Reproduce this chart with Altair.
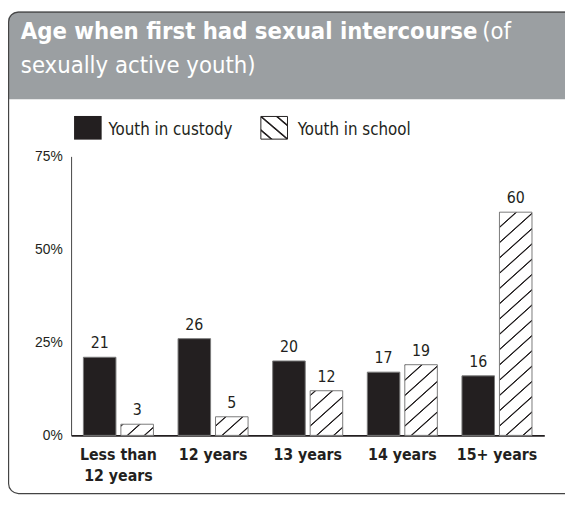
import altair as alt
import pandas as pd

# ---------------- data ----------------
ages = ["Less than\n12 years", "12 years", "13 years", "14 years", "15+ years"]
custody = [21, 26, 20, 17, 16]
school = [3, 5, 12, 19, 60]
series_names = ["Youth in custody", "Youth in school"]
y_ticks = [0, 25, 50, 75]
title_bold = "Age when first had sexual intercourse"
title_rest1 = "(of"
title_rest2 = "sexually active youth)"

# ---------------- style / layout ----------------
W, H = 480, 283
YMAX = 75
INK = "#231f20"
FONT = "Liberation Sans Narrow, DejaVu Sans Condensed, Roboto Condensed, Arial Narrow, sans-serif"
AXFONT = "Liberation Sans, Arial, sans-serif"
PI_X, PO_X, PI_OFF = 0.26, 0.13, 0.132

rows = []
for i, a in enumerate(ages):
    rows.append({"age": a, "series": series_names[0], "value": custody[i], "idx": i})
    rows.append({"age": a, "series": series_names[1], "value": school[i], "idx": i})
df = pd.DataFrame(rows)

step = W / (len(ages) - PI_X + 2 * PO_X)
band = step * (1 - PI_X)
sub_step = band / (2 - PI_OFF)
bar_w = sub_step * (1 - PI_OFF)


def hatch(w, h, slope=0.9, period=15.5, phase=6.0):
    """Linear gradient (bbox units) that renders as '/' hatching in a w x h rect."""
    a = slope * w
    b = h
    F = a + b
    k = F / (a * a + b * b)
    stops = [{"offset": 0, "color": "#ffffff"}]
    c = b + phase
    while c - period > -1.5:
        c -= period
    while c < F + 1.5:
        for off, col in ((-1.3, "#ffffff"), (-0.4, INK), (0.4, INK), (1.3, "#ffffff")):
            o = min(max((c + off) / F, 0.0), 1.0)
            stops.append({"offset": o, "color": col})
        c += period
    stops.append({"offset": 1, "color": "#ffffff"})
    return {"gradient": "linear", "x1": 0, "y1": 0, "x2": k * a, "y2": k * b, "stops": stops}


def legend_hatch():
    stops = [{"offset": 0, "color": "#ffffff"}]
    for t in (0.2, 0.5, 0.8):
        stops += [
            {"offset": t - 0.035, "color": "#ffffff"},
            {"offset": t - 0.012, "color": INK},
            {"offset": t + 0.012, "color": INK},
            {"offset": t + 0.035, "color": "#ffffff"},
        ]
    stops.append({"offset": 1, "color": "#ffffff"})
    return {"gradient": "linear", "x1": 0, "y1": 1, "x2": 1, "y2": 0, "stops": stops}


conds = [
    {
        "test": f"datum.series === '{series_names[1]}' && datum.idx === {i}",
        "value": hatch(bar_w, v * H / YMAX),
    }
    for i, v in enumerate(school)
]

base = alt.Chart(df)

x_enc = alt.X(
    "age:N",
    sort=ages,
    scale=alt.Scale(paddingInner=PI_X, paddingOuter=PO_X),
    axis=alt.Axis(
        title=None,
        labelExpr="split(datum.label, '\\n')",
        labelFont=FONT,
        labelFontSize=16,
        labelFontWeight="bold",
        labelColor=INK,
        labelPadding=11,
        labelLineHeight=22,
        labelAngle=0,
        labelBaseline="top",
        ticks=False,
        domainColor=INK,
        domainWidth=2,
    ),
)
xo = alt.XOffset("series:N", sort=series_names, scale=alt.Scale(paddingInner=PI_OFF, paddingOuter=0))
y_enc = alt.Y(
    "value:Q",
    scale=alt.Scale(domain=[0, YMAX], nice=False),
    axis=alt.Axis(
        title=None,
        values=y_ticks,
        labelExpr="datum.value + '%'",
        labelFont=AXFONT,
        labelFontSize=14,
        labelColor=INK,
        labelPadding=9,
        ticks=False,
        grid=False,
        domainColor="#444444",
        domainWidth=1,
    ),
)

fill = alt.Fill(
    "series:N",
    sort=series_names,
    scale=alt.Scale(domain=series_names, range=[INK, "#ffffff"]),
    condition=conds,
    legend=None,
)

bars = base.mark_bar(stroke="#7a7a7a", strokeWidth=1).encode(x=x_enc, xOffset=xo, y=y_enc, fill=fill)

labels = base.mark_text(baseline="bottom", dy=-6, fontSize=16, font=FONT, color=INK).encode(
    x=alt.X("age:N", sort=ages),
    xOffset=alt.XOffset("series:N", sort=series_names),
    y="value:Q",
    text="value:Q",
)

deco = alt.Chart(alt.Data(values=[{}]))
header = deco.mark_rect(fill="#9b9fa2", cornerRadiusTopLeft=10).encode(
    x=alt.value(-64), x2=alt.value(W + 60), y=alt.value(-147), y2=alt.value(-58)
)
border = deco.mark_rect(fillOpacity=0, stroke="#444444", strokeWidth=1.2, cornerRadius=10).encode(
    x=alt.value(-63.4), x2=alt.value(W + 60), y=alt.value(-146.4), y2=alt.value(342)
)
t1 = deco.mark_text(align="left", baseline="alphabetic", font=FONT, fontSize=24, fontWeight="bold", color="white").encode(
    x=alt.value(-51), y=alt.value(-119), text=alt.value(title_bold)
)
t2 = deco.mark_text(align="left", baseline="alphabetic", font=FONT, fontSize=24, color="white").encode(
    x=alt.value(417), y=alt.value(-119), text=alt.value(title_rest1)
)
t3 = deco.mark_text(align="left", baseline="alphabetic", font=FONT, fontSize=24, color="white").encode(
    x=alt.value(-51), y=alt.value(-85), text=alt.value(title_rest2)
)

# manual legend
leg_sq1 = deco.mark_rect(fill=INK).encode(
    x=alt.value(3), x2=alt.value(31), y=alt.value(-41), y2=alt.value(-17)
)
leg_sq2 = deco.mark_rect(fill=legend_hatch(), stroke=INK, strokeWidth=1).encode(
    x=alt.value(192.5), x2=alt.value(219.5), y=alt.value(-40.5), y2=alt.value(-17.5)
)
leg_t1 = deco.mark_text(align="left", baseline="alphabetic", font=FONT, fontSize=17, color=INK).encode(
    x=alt.value(38), y=alt.value(-22), text=alt.value(series_names[0])
)
leg_t2 = deco.mark_text(align="left", baseline="alphabetic", font=FONT, fontSize=17, color=INK).encode(
    x=alt.value(230), y=alt.value(-22), text=alt.value(series_names[1])
)

chart = (
    alt.layer(header, border, bars, labels, t1, t2, t3, leg_sq1, leg_sq2, leg_t1, leg_t2)
    .properties(
        width=W,
        height=H,
        autosize=alt.AutoSizeParams(type="none"),
        padding={"left": 64, "top": 147, "right": 21, "bottom": 60},
        background="white",
    )
    .configure_view(strokeWidth=0)
)

chart.save("out.html", embed_options={"renderer": "svg", "actions": False})
